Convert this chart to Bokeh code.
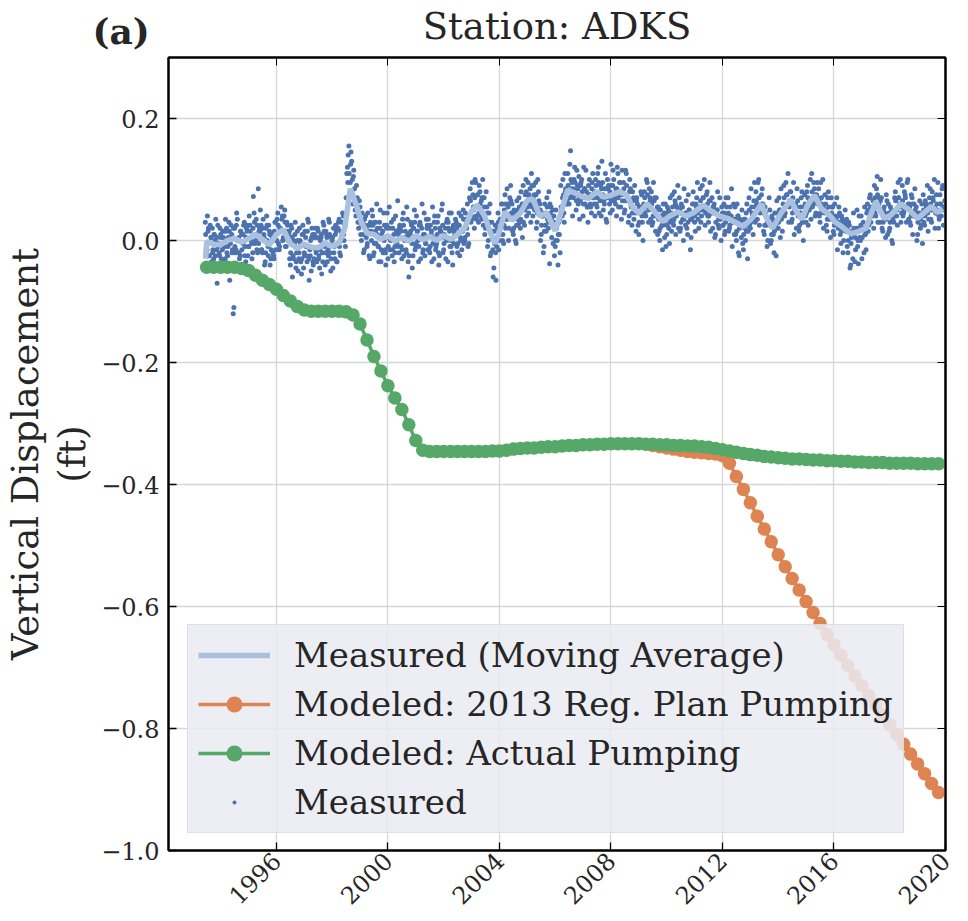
import math
import numpy as np
from bokeh.plotting import figure
from bokeh.models import (Legend, LegendItem, FixedTicker, LinearAxis, Title,
                          CustomJSTickFormatter, Range1d)
from bokeh.embed import file_html
from bokeh.resources import INLINE

FONT = "DejaVu Serif"

# ---------------- data ----------------
x_ticks = [1996, 2000, 2004, 2008, 2012, 2016, 2020]
y_ticks = [-1.0, -0.8, -0.6, -0.4, -0.2, 0.0, 0.2]

# Modeled: Actual Pumping (quarterly), ft
green_years = [1993.5 + 0.25 * k for k in range(106)]
green_vals = [
    -0.044, -0.044, -0.044, -0.044, -0.044, -0.046, -0.049, -0.057, -0.065, -0.072,  # 1993.5-1995.75
    -0.080, -0.090, -0.099, -0.108, -0.114, -0.116, -0.116, -0.116, -0.116, -0.116,  # 1996.0-1998.25
    -0.117, -0.122, -0.137, -0.163, -0.190, -0.214, -0.238, -0.258, -0.277, -0.302,  # 1998.5-2000.75
    -0.328, -0.344, -0.346, -0.346, -0.346, -0.346, -0.346, -0.346, -0.346, -0.346,  # 2001.0-2003.25
    -0.346, -0.345, -0.345, -0.344, -0.342, -0.341, -0.340, -0.340, -0.339, -0.338,  # 2003.5-2005.75
    -0.338, -0.337, -0.336, -0.336, -0.335, -0.335, -0.334, -0.334, -0.333, -0.333,  # 2006.0-2008.25
    -0.333, -0.333, -0.333, -0.334, -0.334, -0.335, -0.335, -0.336, -0.336, -0.337,  # 2008.5-2010.75
    -0.337, -0.338, -0.339, -0.341, -0.343, -0.345, -0.347, -0.349, -0.351, -0.352,  # 2011.0-2013.25
    -0.354, -0.355, -0.356, -0.357, -0.358, -0.358, -0.359, -0.360, -0.360, -0.361,  # 2013.5-2015.75
    -0.361, -0.362, -0.362, -0.363, -0.363, -0.364, -0.364, -0.364, -0.365, -0.365,  # 2016.0-2018.25
    -0.365, -0.365, -0.366, -0.366, -0.366, -0.366,                                  # 2018.5-2019.75
]

# Modeled: 2013 Reg. Plan Pumping (quarterly), ft
orange_years = [2009.5 + 0.25 * k for k in range(42)]
orange_vals = [
    -0.336, -0.338, -0.340, -0.342, -0.344, -0.346, -0.347, -0.348, -0.349, -0.350,  # 2009.5-2011.75
    -0.353, -0.365, -0.387, -0.408, -0.430, -0.452, -0.473, -0.494, -0.515, -0.535,  # 2012.0-2014.25
    -0.554, -0.573, -0.592, -0.610, -0.628, -0.646, -0.663, -0.680, -0.697, -0.714,  # 2014.5-2016.75
    -0.730, -0.746, -0.762, -0.778, -0.794, -0.810, -0.826, -0.842, -0.858, -0.874,  # 2017.0-2019.25
    -0.890, -0.905,                                                                  # 2019.5-2019.75
]

# Measured (Moving Average), ft
ma_years = [1993.46, 1993.5, 1993.75, 1994.0, 1994.25, 1994.5, 1994.75, 1995.0, 1995.25, 1995.5,
            1995.75, 1996.0, 1996.25, 1996.5, 1996.75, 1997.0, 1997.25, 1997.5, 1997.75, 1998.0,
            1998.25, 1998.45, 1998.65, 1998.85, 1999.05, 1999.25, 1999.5, 1999.75, 2000.0, 2000.25,
            2000.5, 2000.75, 2001.0, 2001.25, 2001.5, 2001.75, 2002.0, 2002.25, 2002.5, 2002.75,
            2003.0, 2003.2, 2003.45, 2003.7, 2003.85, 2004.0, 2004.2, 2004.45, 2004.75, 2005.0,
            2005.2, 2005.45, 2005.7, 2006.0, 2006.2, 2006.45, 2006.7, 2006.95, 2007.2, 2007.5,
            2007.75, 2008.0, 2008.3, 2008.55, 2008.8, 2009.0, 2009.3, 2009.55, 2009.85, 2010.1,
            2010.4, 2010.7, 2010.95, 2011.3, 2011.6, 2011.9, 2012.2, 2012.45, 2012.75, 2013.05,
            2013.4, 2013.6, 2013.8, 2014.1, 2014.45, 2014.65, 2014.85, 2015.05, 2015.3, 2015.55,
            2015.8, 2016.05, 2016.3, 2016.6, 2016.9, 2017.15, 2017.3, 2017.5, 2017.8, 2018.05,
            2018.4, 2018.7, 2019.0, 2019.25, 2019.5, 2019.7, 2019.9]
ma_vals = [-0.030, -0.002, -0.006, -0.007, 0.000, 0.004, -0.003, 0.003, 0.010, 0.002,
           -0.007, 0.010, 0.018, -0.005, -0.013, -0.006, -0.011, -0.012, -0.004, -0.010,
           -0.004, 0.020, 0.085, 0.060, 0.030, 0.012, 0.010, 0.002, 0.008, -0.001,
           0.005, -0.001, 0.008, 0.001, 0.007, 0.000, 0.008, 0.002, 0.010, 0.020,
           0.048, 0.058, 0.042, 0.010, -0.005, 0.015, 0.047, 0.033, 0.045, 0.066,
           0.068, 0.040, 0.045, 0.016, 0.045, 0.083, 0.078, 0.072, 0.069, 0.080,
           0.071, 0.074, 0.080, 0.075, 0.053, 0.045, 0.060, 0.048, 0.031, 0.040,
           0.047, 0.040, 0.045, 0.058, 0.048, 0.040, 0.036, 0.030, 0.023, 0.036,
           0.060, 0.035, 0.020, 0.045, 0.067, 0.048, 0.035, 0.058, 0.074, 0.052,
           0.044, 0.030, 0.022, 0.011, 0.015, 0.020, 0.040, 0.064, 0.036, 0.042,
           0.060, 0.050, 0.036, 0.046, 0.056, 0.046, 0.052]

# Measured (individual readings), three interleaved sampling series,
# in thousandths of a foot
meas_start_a = 1993.45
meas_start_b = 1993.475
meas_start_c = 1993.4625
meas_step = 0.05
meas_a_mft = [
    30, -10, 15, -25, 5, 20, -30, 0, -15, 25, -20, 10, -35, 5, -10, 15, -25, 30, -5, 10,
    -120, 20, -15, 35, 5, -25, 10, -5, 30, -35, 15, -10, 25, 0, -20, 45, 10, -15, 85, 20,
    25, -20, 10, -35, 40, -10, 15, -30, 5, -25, 30, 0, 45, -15, 20, 35, 5, 50, -10, 25,
    10, -40, 20, -25, -5, -45, 15, -30, 0, -55, 25, -20, 5, -35, 30, -15, -50, 10, -30, 20,
    -35, 15, -45, 5, -20, 25, -40, 10, -15, 30, -50, 0, 20, -30, 15, -5, 35, -25, 10, 40,
    30, 70, 120, 155, 95, 130, 60, 85, 40, 70, 20, 55, 0, 30, -15, 40, -10, 25, -30, 15,
    40, -20, 15, 60, -10, 30, -35, 5, 45, -15, 20, -30, 55, 0, -25, 35, -10, 15, 65, -20,
    20, -30, 45, 0, -15, 35, -60, 10, 25, -25, 50, -10, 15, -35, 30, 5, -20, 45, -5, 20,
    35, -20, 10, 55, -30, 20, -5, 40, -25, 15, 60, -15, 5, 30, -35, 45, 0, -20, 25, 10,
    30, -20, 45, 5, -15, 50, 0, 35, 60, -5, 85, 40, 75, 20, 95, 55, 30, 80, 65, 100,
    70, 20, 55, 0, 30, -20, 15, -45, 25, -10, 45, 0, 30, 60, -5, 75, 35, 60, 20, 90,
    60, 10, 45, -5, 35, 70, 20, 55, 90, 25, 100, 60, 45, 85, 110, 40, 75, 95, 30, 80,
    60, 10, 45, -10, 25, 70, 20, -38, 55, 30, 40, -10, 20, -40, 10, 90, 40, 75, 110, 60,
    110, 60, 147, 95, 70, 120, 50, 90, 105, 65, 100, 40, 85, 115, 55, 90, 75, 45, 110, 60,
    100, 55, 120, 75, 40, 95, 65, 110, 30, 85, 60, 125, 50, 100, 70, 40, 110, 80, 55, 115,
    95, 50, 110, 70, 40, 85, 25, 65, 90, 15, 60, 10, 45, 75, 0, 80, 40, 95, 30, 70,
    80, 30, 65, 15, 50, 55, 0, 40, -15, 30, 60, 10, 45, -5, 35, 75, 25, 65, 40, 90,
    70, 20, 55, 0, 40, 65, 10, 50, -15, 35, 80, 30, 60, 95, 20, 85, 40, 70, 100, 45,
    80, 30, 95, 45, 20, 60, 10, 50, 25, 70, 0, 45, 60, 15, 55, 70, 20, 40, -10, 60,
    55, 0, 40, -25, 30, 50, -15, 20, 45, -30, 70, 20, 55, 10, 95, 80, 35, 100, 45, 75,
    60, 10, 45, -10, 30, 50, 0, 35, -20, 25, 65, 20, 50, 85, 15, 90, 45, 75, 110, 55,
    80, 35, 95, 50, 20, 65, 15, 55, 80, 0, 75, 30, 90, 50, 100, 110, 60, 85, 45, 95,
    85, 30, 70, 100, 45, 60, 15, 80, 35, 70, 55, 10, 40, 70, 20, 45, -5, 35, 0, 50,
    35, -20, 25, -40, 10, 45, -35, 20, -10, 40, 0, -30, 30, 55, -15, 60, 25, 75, 40, 65,
    90, 40, 105, 60, 30, 70, 15, 55, 5, 65, 60, 20, 45, -5, 30, 80, 40, 95, 60, 30,
    90, 45, 75, 30, 100, 60, 25, 70, 40, 85, 55, 10, 45, 20, 60, 75, 25, 60, 90, 35,
    85, 30, 70, 100, 45, 60, 20, 75, 40, 90, 55,
]
meas_b_mft = [
    -20, 40, -5, 25, -35, -15, 10, 35, -70, -5, 20, -30, 15, -10, 35, -20, 5, -65, 25, -15,
    -110, -20, 45, 0, -30, 15, -40, 25, -10, 20, -25, 40, 5, -30, 72, -5, 35, -20, 15, 50,
    -15, 35, -40, 20, 0, 25, -40, 10, -20, 15, -15, 35, -5, 20, 55, 0, 40, -10, 30, 15,
    -30, 25, -60, 0, 30, -20, -50, 20, -35, 10, -45, 15, -25, 35, -65, 0, 20, -40, 5, -20,
    20, -25, 0, -55, 30, -10, 15, -35, 35, -20, 5, -45, -10, 25, -35, 30, -20, 15, 45, 0,
    -10, 110, 140, 75, 145, 100, 115, 50, 90, 30, 65, 10, 45, -20, 25, 5, 45, -25, 30, 50,
    -25, 30, -5, 20, -35, 50, 10, -20, 25, -40, 45, 5, -15, 30, 20, -35, 40, -5, 10, 25,
    -10, 35, -25, 15, 55, -35, 5, 30, -45, 20, -15, 40, 0, 25, -30, 60, 10, -25, 35, -15,
    -15, 25, -35, 5, 40, -10, 30, -40, 15, 50, -20, 10, -30, 35, 20, -10, 45, -40, 15, 35,
    -10, 25, -25, 40, 15, -5, 45, 20, -10, 70, 30, 95, 50, 100, 35, 75, 90, 40, 70, 25,
    10, 80, -10, 45, -25, 30, -60, -5, -65, 20, -15, 35, 60, 10, 50, 20, 85, 0, 70, 45,
    15, 50, 0, 65, 25, 30, 80, 5, 60, 75, 40, 95, 70, 30, 55, 90, 60, 20, 100, 50,
    0, 40, -20, 60, 15, 35, 80, 45, 5, -5, -25, 50, 0, 30, -20, 50, 100, 30, 85, 65,
    70, 125, 85, 40, 100, 75, 115, 60, 35, 95, 70, 120, 60, 80, 30, 100, 55, 95, 70, 40,
    60, 110, 45, 90, 130, 50, 85, 35, 100, 70, 45, 90, 115, 65, 85, 120, 55, 95, 35, 75,
    45, 115, 65, 30, 100, 55, 80, 35, 45, 70, 25, 55, 80, 30, 60, 45, 100, 60, 85, 35,
    25, 95, 40, 70, 10, 15, 50, 25, 60, 5, -10, 55, 20, 70, 15, 30, 80, 10, 55, 20,
    15, 60, 35, 85, 25, 20, 75, 40, 5, 60, 45, 15, 70, 35, 55, 30, 90, 50, 25, 75,
    40, 65, 15, 70, 55, 5, 45, 80, 20, 35, 55, 25, 10, 70, 35, 15, 55, 85, 30, 10,
    10, 60, -20, 35, 5, -5, 35, 0, 60, 15, 25, 85, 40, 65, 30, 60, 95, 25, 55, 85,
    15, 55, 25, 0, 70, -5, 40, 10, 45, -25, 30, 70, 5, 45, 60, 40, 95, 60, 30, 80,
    30, 70, 10, 60, 85, 20, 45, 70, 30, 55, 40, 80, 25, 65, 35, 55, 95, 40, 75, 60,
    40, 95, 55, 20, 75, 25, 70, 40, 5, 55, 15, 60, 35, -15, 55, 10, 40, -20, 30, 15,
    -10, 30, -45, 5, -30, 15, -15, 50, -38, 5, 40, 20, -20, 10, 45, 15, 70, 30, 55, 20,
    45, 85, 30, 70, 100, 20, 50, 35, 75, 10, 15, 55, 0, 40, 70, 50, 25, 70, 100, 45,
    40, 80, 55, 95, 35, 30, 75, 10, 60, 45, 0, 40, 65, 25, -5, 30, 65, 45, 15, 70,
    35, 80, 50, 20, 75, 95, 35, 60, 85, 25, 65,
]
meas_c_mft = [
    10, -15, 20, -5, 5, -20, 10, -25, 5, -10, -25, 5, -15, 15, -30, 20, -10, 15, 5, -20,
    20, -10, 25, 0, -20, 15, -15, 10, -25, 5, 25, -10, 15, -5, 20, 30, 0, 25, -5, 15,
    -15, 20, 5, -20, 25, -25, 10, -15, 0, -30, 30, 0, 25, -10, 15, 40, 5, 30, 15, 0,
    15, -20, 5, -30, 10, -35, 0, -20, -5, -30, 10, -25, -10, 15, -30, -25, 5, -35, 10, -15,
    5, -30, -15, 10, -35, 15, -20, 5, -25, 10, -30, 5, -20, 10, -35, 20, -10, 0, 30, 10,
    25, 45, 95, 110, 125, 80, 105, 70, 60, 50, 45, 30, 25, 10, 35, 20, -5, 15, 25, 0,
    25, -5, 30, 10, -10, 20, -15, 15, 0, -20, 25, -10, 20, 5, -15, 10, -20, 15, -10, 20,
    15, -15, 25, 5, -20, 10, -25, 15, -5, 20, 30, -5, 15, -10, 25, 20, -15, 10, -5, 25,
    20, -10, 15, -5, 30, -15, 10, -20, 20, 5, 25, -5, 20, 0, 30, 15, -10, 20, -5, 10,
    20, -5, 25, 0, 15, 35, 5, 30, 10, 40, 65, 35, 55, 70, 40, 75, 45, 60, 35, 70,
    55, 25, 45, 30, 60, 10, -15, 15, -20, 5, 30, 10, 35, 0, 25, 60, 35, 55, 40, 65,
    45, 20, 40, 25, 50, 55, 35, 60, 30, 50, 80, 55, 75, 60, 90, 70, 50, 75, 45, 65,
    50, 25, 40, 15, 45, 55, 30, 60, 35, 50, 30, 0, 25, 10, 35, 55, 70, 45, 80, 60,
    90, 70, 100, 75, 85, 95, 65, 85, 70, 90, 80, 60, 85, 70, 55, 75, 60, 85, 70, 80,
    90, 70, 95, 65, 85, 75, 60, 85, 70, 90, 80, 65, 90, 70, 60, 85, 70, 95, 75, 65,
    85, 65, 90, 70, 80, 60, 45, 70, 50, 65, 45, 30, 55, 40, 50, 70, 55, 75, 50, 65,
    60, 40, 70, 45, 55, 35, 20, 40, 25, 45, 40, 25, 50, 30, 45, 55, 35, 60, 45, 50,
    50, 30, 55, 35, 45, 45, 30, 50, 35, 40, 60, 40, 55, 45, 50, 65, 50, 70, 55, 45,
    60, 40, 65, 45, 55, 45, 30, 50, 35, 40, 40, 25, 45, 30, 40, 45, 25, 40, 30, 35,
    35, 15, 40, 20, 30, 25, 10, 35, 15, 25, 50, 30, 45, 35, 55, 65, 50, 70, 55, 60,
    45, 25, 40, 30, 35, 25, 10, 30, 15, 20, 45, 30, 50, 35, 40, 70, 55, 75, 60, 65,
    65, 45, 60, 50, 55, 40, 25, 45, 30, 40, 60, 45, 70, 50, 65, 80, 60, 75, 65, 70,
    65, 45, 60, 55, 50, 50, 35, 55, 40, 45, 40, 25, 35, 30, 40, 30, 15, 25, 20, 25,
    20, 0, 15, -5, 10, 20, 5, 15, 0, 20, 25, 5, 20, 10, 15, 50, 35, 55, 40, 50,
    70, 55, 75, 60, 65, 45, 30, 45, 35, 40, 45, 30, 50, 35, 40, 65, 50, 70, 55, 60,
    65, 50, 70, 55, 60, 55, 40, 60, 45, 50, 45, 30, 40, 35, 45, 50, 40, 55, 45, 50,
    60, 50, 65, 55, 45, 50, 40, 60, 50, 55, 50,
]

meas_x = np.concatenate([meas_start_a + meas_step * np.arange(len(meas_a_mft)),
                         meas_start_b + meas_step * np.arange(len(meas_b_mft)),
                         meas_start_c + meas_step * np.arange(len(meas_c_mft))])
meas_y = np.concatenate([np.array(meas_a_mft), np.array(meas_b_mft),
                         np.array(meas_c_mft)]) / 1000.0

# ---------------- figure ----------------
TXT = "#262626"
p = figure(width=960, height=915,
           x_range=Range1d(1992.13, 2020.0), y_range=Range1d(-1.0, 0.3),
           output_backend="svg", toolbar_location=None,
           min_border_left=158, min_border_right=15, min_border_top=57, min_border_bottom=64,
           background_fill_color="white", border_fill_color="white")

p.outline_line_color = "black"
p.outline_line_width = 2

for ax in (p.xaxis[0], p.yaxis[0]):
    ax.axis_line_color = "black"
    ax.axis_line_width = 2
    ax.major_tick_in = 8
    ax.major_tick_out = 0
    ax.major_tick_line_width = 1.3
    ax.minor_tick_line_color = None
    ax.major_label_text_font = FONT
    ax.major_label_text_font_size = "24px"
    ax.major_label_text_color = TXT

p.xaxis.ticker = FixedTicker(ticks=x_ticks)
p.xaxis.major_label_orientation = math.pi / 4
p.xaxis.major_label_standoff = 6
p.yaxis.ticker = FixedTicker(ticks=y_ticks)
p.yaxis.formatter = CustomJSTickFormatter(
    code="return (tick < -1e-9 ? '\u2212' : '') + Math.abs(tick).toFixed(1);")
p.yaxis.major_label_standoff = 9
p.yaxis.axis_label = "Vertical Displacement\n(ft)"
p.yaxis.axis_label_text_font = FONT
p.yaxis.axis_label_text_font_size = "37px"
p.yaxis.axis_label_text_font_style = "normal"
p.yaxis.axis_label_text_line_height = 1.1
p.yaxis.axis_label_text_color = TXT
p.yaxis.axis_label_standoff = 4

# top / right axes: inward ticks only, no labels
top = LinearAxis(ticker=FixedTicker(ticks=x_ticks), major_tick_in=8, major_tick_out=0,
                 minor_tick_line_color=None, axis_line_color="black", axis_line_width=2,
                 major_label_text_font_size="1px", major_label_text_color=None,
                 major_label_standoff=0, axis_label_standoff=0)
right = LinearAxis(ticker=FixedTicker(ticks=y_ticks), major_tick_in=8, major_tick_out=0,
                   minor_tick_line_color=None, axis_line_color="black", axis_line_width=2,
                   major_label_text_font_size="1px", major_label_text_color=None,
                   major_label_standoff=0, axis_label_standoff=0)
p.add_layout(top, "above")
p.add_layout(right, "right")

# invisible spacer between the frame and the title row
spacer = LinearAxis(ticker=FixedTicker(ticks=x_ticks), major_tick_in=0, major_tick_out=25,
                    major_tick_line_color=None, minor_tick_line_color=None,
                    axis_line_color=None, major_label_text_font_size="1px",
                    major_label_text_color=None, major_label_standoff=0, axis_label_standoff=0)
p.add_layout(spacer, "above")

# panel tag and station title share one row (negative standoffs let them overlap)
tag = Title(text="(a)", align="left", offset=-76, text_font=FONT, text_font_style="bold",
            text_font_size="36px", text_color=TXT, standoff=-39)
p.add_layout(tag, "above")
p.title.text = "Station: ADKS"
p.title.align = "center"
p.title.text_font = FONT
p.title.text_font_size = "37px"
p.title.text_font_style = "normal"
p.title.text_color = TXT
p.title.standoff = -40

p.xgrid.ticker = FixedTicker(ticks=x_ticks)
p.ygrid.ticker = FixedTicker(ticks=y_ticks)
p.grid.grid_line_color = "#d6d6d6"
p.grid.grid_line_width = 1.3

# ---------------- glyphs ----------------
r_meas = p.scatter(meas_x, meas_y, marker="dot", size=20, color="#4c72b0")
r_ma = p.line(ma_years, ma_vals, line_color="#a9c0df", line_width=5.5)
r_or_l = p.line(orange_years, orange_vals, line_color="#dd8452", line_width=3.5)
r_or_p = p.scatter(orange_years, orange_vals, size=13.5, color="#dd8452", line_color=None)
r_gr_l = p.line(green_years, green_vals, line_color="#55a868", line_width=3.5)
r_gr_p = p.scatter(green_years, green_vals, size=13.5, color="#55a868", line_color=None)

legend = Legend(items=[
    LegendItem(label="Measured (Moving Average)", renderers=[r_ma]),
    LegendItem(label="Modeled: 2013 Reg. Plan Pumping", renderers=[r_or_l, r_or_p]),
    LegendItem(label="Modeled: Actual Pumping", renderers=[r_gr_l, r_gr_p]),
    LegendItem(label="Measured", renderers=[r_meas]),
], location=(19, 17))
legend.label_text_font = FONT
legend.label_text_font_size = "34px"
legend.label_text_color = TXT
legend.label_height = 40
legend.glyph_height = 40
legend.glyph_width = 72
legend.spacing = 9
legend.padding = 10
legend.margin = 0
legend.label_standoff = 24
legend.background_fill_color = "#eaeaf2"
legend.background_fill_alpha = 0.85
legend.border_line_color = "#cfcfd8"
legend.border_line_width = 1.5
p.add_layout(legend)

open("out.html", "w").write(file_html(p, INLINE))
